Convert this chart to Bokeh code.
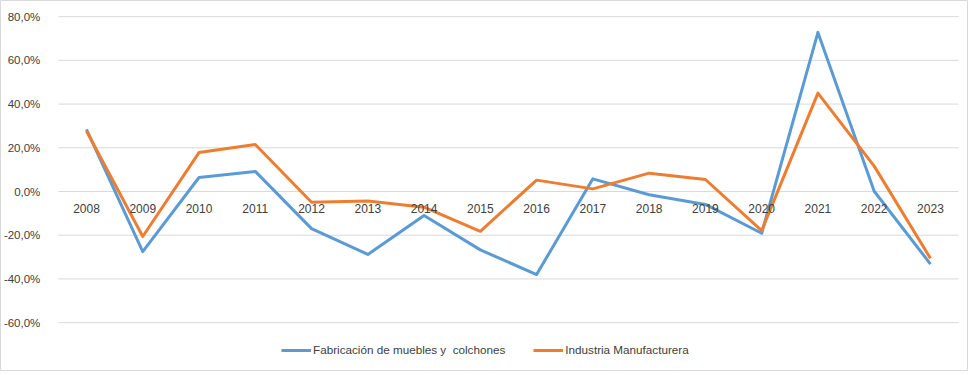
from bokeh.plotting import figure
from bokeh.models import Range1d, FixedTicker, CustomJSTickFormatter, Legend, LegendItem
from bokeh.embed import file_html
from bokeh.resources import INLINE

years = [2008, 2009, 2010, 2011, 2012, 2013, 2014, 2015,
         2016, 2017, 2018, 2019, 2020, 2021, 2022, 2023]
muebles = [28.4, -27.5, 6.4, 9.2, -17.0, -28.8, -11.0, -26.7,
           -38.0, 5.8, -1.5, -5.9, -19.1, 72.8, 0.1, -33.2]
manufactura = [27.7, -20.6, 17.8, 21.5, -4.9, -4.3, -7.2, -18.2,
               5.2, 1.2, 8.4, 5.5, -17.9, 45.0, 11.6, -30.6]
y_ticks = [-60, -40, -20, 0, 20, 40, 60, 80]
series_names = ["Fabricación de muebles y  colchones", "Industria Manufacturera"]
colors = ["#5B9BD5", "#ED7D31"]

FONT = "Liberation Sans"
TXT = "#404040"
GRID = "#D9D9D9"

p = figure(width=968, height=371, output_backend="svg", toolbar_location=None,
           x_range=Range1d(years[0] - 1.528, years[0] - 1.528 + 17.204),
           y_range=Range1d(-82.35, 87.39),
           min_border=0, min_border_left=0, min_border_right=0,
           min_border_top=0, min_border_bottom=0)
p.background_fill_color = "white"
p.border_fill_color = "white"
p.outline_line_color = GRID
p.outline_line_width = 1
p.xgrid.visible = False
p.ygrid.visible = False

# gridlines across the plot area (half a category beyond first/last year)
p.segment(x0=[years[0] - 0.5] * len(y_ticks), x1=[years[-1] + 0.5] * len(y_ticks),
          y0=y_ticks, y1=y_ticks, line_color=GRID, line_width=1)

# y axis
ya = p.yaxis[0]
ya.fixed_location = years[0] - 0.5
ya.ticker = FixedTicker(ticks=y_ticks)
ya.formatter = CustomJSTickFormatter(code="return tick.toFixed(1).replace('.', ',') + '%';")
ya.axis_line_color = None
ya.major_tick_line_color = None
ya.minor_tick_line_color = None
ya.major_label_standoff = 12
ya.major_label_text_font = FONT
ya.major_label_text_font_size = "11.5px"
ya.major_label_text_color = TXT

# x axis at zero
xa = p.xaxis[0]
xa.fixed_location = 0
xa.ticker = FixedTicker(ticks=years)
xa.major_label_overrides = {y: str(y) for y in years}
xa.axis_line_color = None
xa.major_tick_line_color = None
xa.minor_tick_line_color = None
xa.major_label_standoff = 6
xa.major_label_text_font = FONT
xa.major_label_text_font_size = "12px"
xa.major_label_text_color = TXT

r1 = p.line(years, muebles, line_color=colors[0], line_width=3, line_join="round")
r2 = p.line(years, manufactura, line_color=colors[1], line_width=3, line_join="round")

legend = Legend(items=[LegendItem(label=series_names[0], renderers=[r1]),
                       LegendItem(label=series_names[1], renderers=[r2])],
                orientation="horizontal", location=(281, 15),
                glyph_width=30, glyph_height=12, label_height=12,
                label_standoff=2, spacing=28, padding=0, margin=0,
                border_line_color=None, background_fill_alpha=0,
                label_text_font=FONT, label_text_font_size="11.7px",
                label_text_color=TXT)
p.add_layout(legend)

open("out.html", "w").write(file_html(p, INLINE))
